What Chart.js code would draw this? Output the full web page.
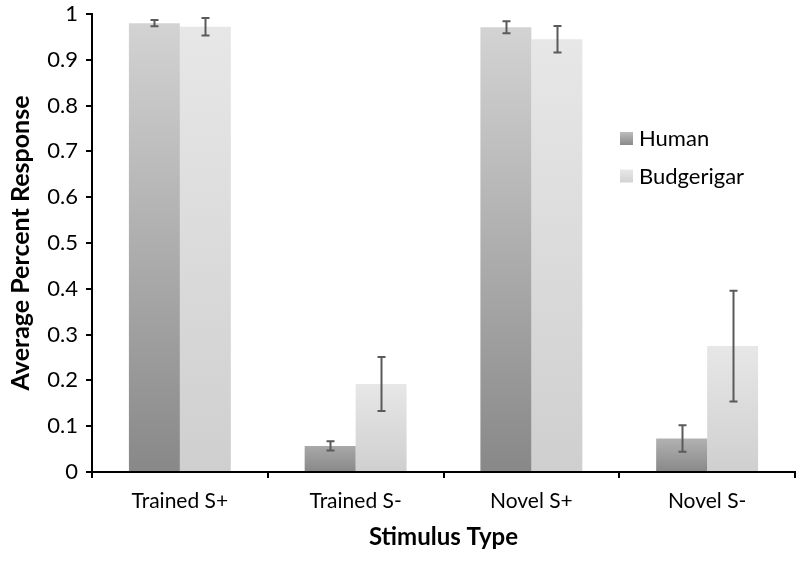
<!DOCTYPE html>
<html>
<head>
<meta charset="utf-8">
<script src="https://cdn.jsdelivr.net/npm/chart.js@4.4.1/dist/chart.umd.min.js"></script>
<style>
  body { margin: 0; background: #fff; }
  #wrap { width: 800px; height: 561px; }
</style>
</head>
<body>
<div id="wrap"><canvas id="chart" width="800" height="561"></canvas></div>
<script>
const categories = ["Trained S+", "Trained S-", "Novel S+", "Novel S-"];
const humanValues = [0.980, 0.057, 0.971, 0.073];
const humanErrors = [0.007, 0.010, 0.013, 0.029];
const budgieValues = [0.972, 0.192, 0.945, 0.275];
const budgieErrors = [0.019, 0.059, 0.029, 0.121];
const seriesNames = ["Human", "Budgerigar"];
const yTicks = [0, 0.1, 0.2, 0.3, 0.4, 0.5, 0.6, 0.7, 0.8, 0.9, 1];

const FONT = "Lato, 'Open Sans', sans-serif";

// vertical gradient for each bar, dark at the bottom
function barGradient(top, bottom) {
  return function (context) {
    const chart = context.chart;
    const y = chart.scales.y;
    if (!chart.chartArea || !y) return bottom;
    const base = y.getPixelForValue(0);
    const yTop = y.getPixelForValue(context.raw);
    if (isNaN(yTop)) return bottom;
    const h = Math.max(base - yTop, 60);
    const g = chart.ctx.createLinearGradient(0, base - h, 0, base);
    g.addColorStop(0, top);
    g.addColorStop(1, bottom);
    return g;
  };
}

const errorBars = {
  id: "errorBars",
  afterDatasetsDraw(chart) {
    const ctx = chart.ctx;
    const y = chart.scales.y;
    const errs = [humanErrors, budgieErrors];
    ctx.save();
    ctx.strokeStyle = "#5a5a5a";
    ctx.lineWidth = 2;
    chart.data.datasets.forEach((ds, di) => {
      const meta = chart.getDatasetMeta(di);
      meta.data.forEach((bar, i) => {
        const v = ds.data[i];
        const e = errs[di][i];
        const x = Math.round(bar.x) + 0.5;
        const y1 = y.getPixelForValue(v + e);
        const y2 = y.getPixelForValue(v - e);
        ctx.beginPath();
        ctx.moveTo(x, y1); ctx.lineTo(x, y2);
        ctx.moveTo(x - 4, y1); ctx.lineTo(x + 4, y1);
        ctx.moveTo(x - 4, y2); ctx.lineTo(x + 4, y2);
        ctx.stroke();
      });
    });
    ctx.restore();
  }
};

const sideLegend = {
  id: "sideLegend",
  afterDraw(chart) {
    const ctx = chart.ctx;
    const area = chart.chartArea;
    const x = area.left + 528;
    const y0 = area.top + 124;
    const colours = [["#bdbdbd", "#8a8a8a"], ["#e8e8e8", "#d2d2d2"]];
    ctx.save();
    ctx.font = "22px " + FONT;
    ctx.textBaseline = "middle";
    seriesNames.forEach((name, i) => {
      const yy = y0 + i * 37.5;
      const g = ctx.createLinearGradient(0, yy - 6, 0, yy + 7);
      g.addColorStop(0, colours[i][0]);
      g.addColorStop(1, colours[i][1]);
      ctx.fillStyle = g;
      ctx.fillRect(x, yy - 6, 13, 13);
      ctx.fillStyle = "#000";
      ctx.fillText(name, x + 19, yy + 1);
    });
    ctx.restore();
  }
};

new Chart(document.getElementById("chart"), {
  type: "bar",
  data: {
    labels: categories,
    datasets: [
      {
        label: seriesNames[0],
        data: humanValues,
        backgroundColor: barGradient("#d3d3d3", "#888888"),
        barPercentage: 1,
        categoryPercentage: 0.58
      },
      {
        label: seriesNames[1],
        data: budgieValues,
        backgroundColor: barGradient("#e7e7e7", "#cfcfcf"),
        barPercentage: 1,
        categoryPercentage: 0.58
      }
    ]
  },
  options: {
    responsive: false,
    animation: false,
    layout: { padding: { top: 14, right: 5, left: 0, bottom: 0 } },
    plugins: {
      legend: { display: false },
      tooltip: { enabled: false }
    },
    scales: {
      x: {
        grid: { drawOnChartArea: false, color: "#000", lineWidth: 2, tickLength: 6, offset: true },
        border: { color: "#000", width: 2 },
        ticks: { color: "#000", font: { family: FONT, size: 21 }, padding: 11 },
        title: {
          display: true, text: "Stimulus Type", color: "#000",
          font: { family: FONT, size: 24, weight: "bold" },
          padding: { top: 0, bottom: 9 }
        },
        afterFit(scale) { scale.height = 89; scale.paddingLeft = 0; scale.paddingRight = 0; }
      },
      y: {
        min: 0, max: 1,
        afterBuildTicks(scale) { scale.ticks = yTicks.map(v => ({ value: v })); },
        grid: { drawOnChartArea: false, color: "#000", lineWidth: 2, tickLength: 6 },
        border: { color: "#000", width: 2 },
        ticks: {
          color: "#000", font: { family: FONT, size: 22 }, padding: 8,
          callback: v => String(+v.toFixed(1))
        },
        title: {
          display: true, text: "Average Percent Response", color: "#000",
          font: { family: FONT, size: 25, weight: "bold" },
          padding: { top: 6, bottom: 0 }
        },
        afterFit(scale) { scale.width = 92; scale.paddingTop = 0; scale.paddingBottom = 0; }
      }
    }
  },
  plugins: [errorBars, sideLegend]
});
</script>
</body>
</html>
